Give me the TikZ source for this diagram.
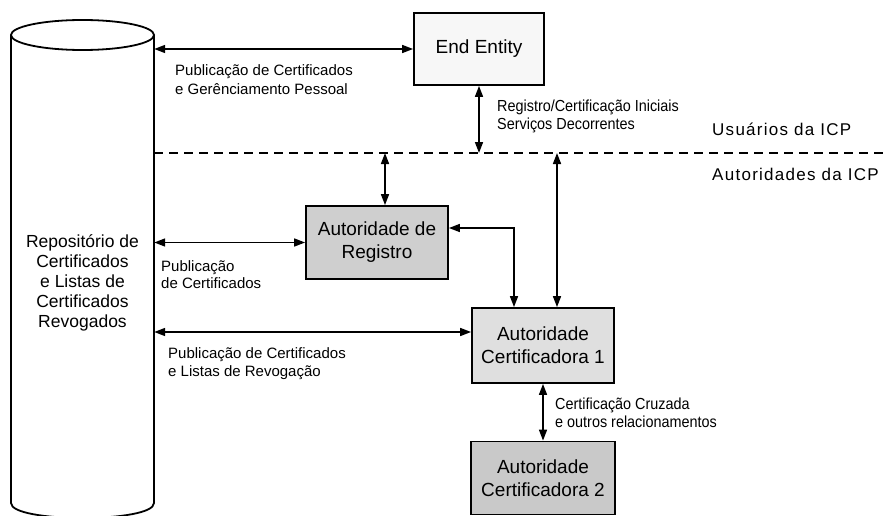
\documentclass[tikz,border=0pt]{standalone}
\usepackage{fontspec}
\setmainfont{Liberation Sans}
\newfontfamily\narrowsf[FakeStretch=0.9]{Liberation Sans}
\newfontfamily\widesf[LetterSpace=7.5]{Liberation Sans}
\usetikzlibrary{arrows.meta}

\begin{document}
\begin{tikzpicture}[x=1pt,y=-1pt,
  box/.style={draw,line width=1.8pt,minimum width=142pt,minimum height=73pt,
    inner sep=0pt,align=center,font=\fontsize{19}{23}\selectfont},
  arr/.style={line width=1.6pt,{Triangle[length=11pt,width=8pt]}-{Triangle[length=11pt,width=8pt]}},
  lbl/.style={anchor=north west,inner sep=0pt,align=left,font=\fontsize{15}{19}\selectfont},
  nlbl/.style={lbl,font=\narrowsf\fontsize{16}{18}\selectfont},
  zone/.style={anchor=north west,inner sep=0pt,font=\widesf\fontsize{17}{20}\selectfont}]

\useasboundingbox (0,0) rectangle (885,516);

% certificate repository (cylinder)
\draw[line width=1.8pt,fill=white] (11,35) -- (11,503)
  .. controls (11,523) and (154,523) .. (154,503) -- (154,35);
\draw[line width=1.8pt,fill=white] (82.5,35) ellipse [x radius=71.5, y radius=15];
\node[inner sep=0pt,minimum width=143pt,align=center,font=\fontsize{17.5}{20}\selectfont]
  (repo) at (82.5,283) {Repositório de\\Certificados\\e Listas de\\Certificados\\Revogados};

% boundary between users and authorities
\coordinate (dl) at (154,153);
\coordinate (dr) at (885,153);
\draw[line width=1.5pt,dash pattern=on 9pt off 6pt] (dl) -- (dr);

% entities
\node[box,fill=gray!6,minimum width=130pt,minimum height=72pt] (ee) at (479,49) {End Entity};
\node[box,fill=gray!38] (ar) at (377,242.5) {Autoridade de\\Registro};
\node[box,fill=gray!25,minimum height=75pt] (ca1) at (543,345.5) {Autoridade\\Certificadora 1};
\node[box,fill=gray!42,minimum width=144pt] (ca2) at (543,478) {Autoridade\\Certificadora 2};

% connectors
\draw[arr] (repo.east |- ee.west) -- (ee.west);
\draw[arr] (ee.south) -- (ee.south |- dl);
\coordinate (artop) at ([xshift=8pt]ar.north);
\draw[arr] (artop |- dl) -- (artop);
\draw[arr] (repo.east |- ar.west) -- (ar.west);
\coordinate (arR) at ([yshift=14.5pt]ar.east);
\coordinate (c1a) at ([xshift=-29pt]ca1.north);
\draw[arr] (arR) -| (c1a);
\coordinate (c1b) at ([xshift=14pt]ca1.north);
\draw[arr] (c1b |- dl) -- (c1b);
\coordinate (c1L) at ([yshift=13.5pt]ca1.west);
\draw[arr] (repo.east |- c1L) -- (c1L);
\draw[arr] (ca1.south) -- (ca2.north);

% labels
\node[lbl] (l1) at (175,64) {Publicação de Certificados\\e Gerênciamento Pessoal};
\node[nlbl] (l2) at (497,100) {Registro/Certificação Iniciais\\Serviços Decorrentes};
\node[lbl,font=\fontsize{15}{17.5}\selectfont] (l3) at (161,260) {Publicação\\de Certificados};
\node[lbl,font=\fontsize{15}{18}\selectfont] (l4) at (168,347) {Publicação de Certificados\\e Listas de Revogação};
\node[nlbl,font=\narrowsf\fontsize{16}{17.5}\selectfont] (l5) at (555,398) {Certificação Cruzada\\e outros relacionamentos};
\node[zone] (users) at (712,123) {Usuários da ICP};
\node[zone] (auth) at (712,168) {Autoridades da ICP};
\end{tikzpicture}
\end{document}
